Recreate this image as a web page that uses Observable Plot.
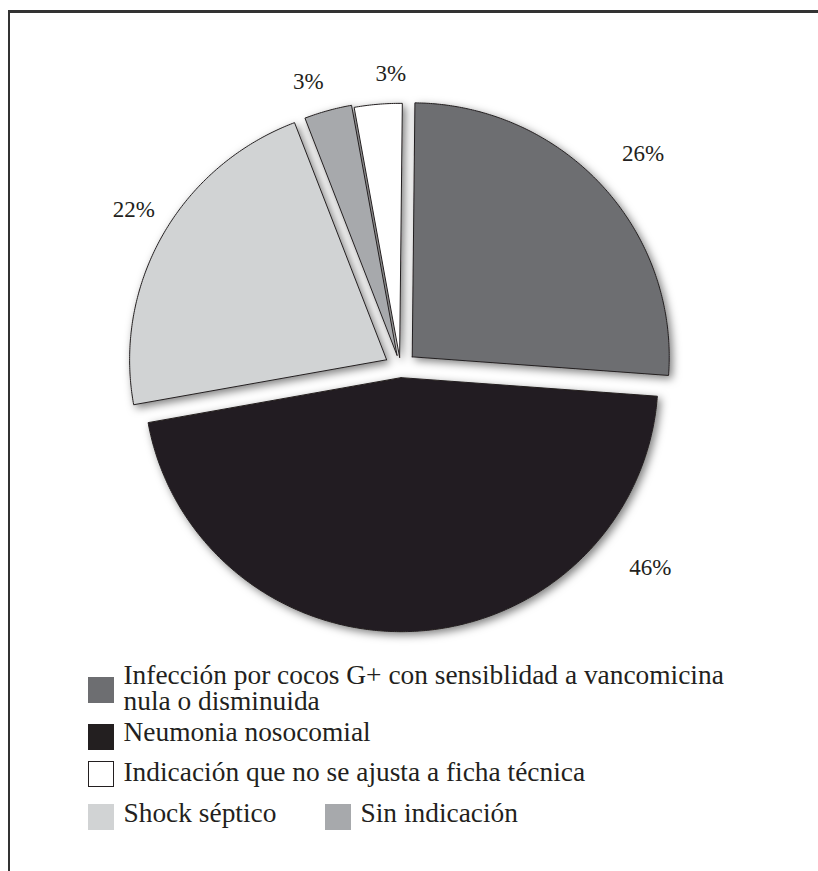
<!DOCTYPE html>
<html><head><meta charset="utf-8">
<script src="https://cdn.jsdelivr.net/npm/d3@7"></script>
<script src="https://cdn.jsdelivr.net/npm/@observablehq/plot@0.6"></script>
<style>
html,body{margin:0;padding:0;background:#fff;}
#page{position:relative;width:818px;height:871px;overflow:hidden;font-family:"Liberation Serif","Times New Roman","DejaVu Serif",serif;color:#231f20;}
#page svg{position:absolute;left:0;top:0;overflow:visible;}
.frame{position:absolute;background:#333;}
.sw{position:absolute;box-sizing:border-box;}
.lt{position:absolute;font-size:27.4px;line-height:25.5px;white-space:pre;font-family:"Liberation Serif","Times New Roman","DejaVu Serif",serif;}
</style></head><body><div id="page"></div>
<script>
// ---- data ----
const categories = [
  "Infección por cocos G+ con sensiblidad a vancomicina\nnula o disminuida",
  "Neumonia nosocomial",
  "Shock séptico",
  "Sin indicación",
  "Indicación que no se ajusta a ficha técnica"
];
const percentages = [26, 46, 22, 3, 3];
const percentLabels = ["26%", "46%", "22%", "3%", "3%"];
const sliceColors = ["#6d6e71", "#231f20", "#d1d3d4", "#a7a9ac", "#ffffff"];
const legendRows = [[0], [1], [4], [2, 3]];

// ---- layout ----
const W = 818, H = 871, plotH = 660;
const cx = 400, cy = 367, rx = 257, ry = 254;
const startDeg = 0.6;
const explode = [0.062, 0.04, 0.062, 0.05, 0.04];
const labelFrac = [0.51, 0.21, 0.52, 0.31, 0.77];
const labelDist = [1.264, 1.25, 1.21, 1.183, 1.158];
const serif = '"Liberation Serif","Times New Roman","DejaVu Serif",serif';

const a0 = startDeg * Math.PI / 180;
const arcs = d3.pie().sort(null).startAngle(a0).endAngle(a0 + 2 * Math.PI)(percentages);

const pts = [];
arcs.forEach((a, i) => {
  const mid = (a.startAngle + a.endAngle) / 2;
  const ox = explode[i] * Math.sin(mid), oy = explode[i] * Math.cos(mid);
  pts.push({slice: i, x: ox, y: oy, color: sliceColors[i]});
  const n = Math.max(4, Math.ceil((a.endAngle - a.startAngle) / (Math.PI / 360)));
  for (let k = 0; k <= n; k++) {
    const t = a.startAngle + (a.endAngle - a.startAngle) * k / n;
    pts.push({slice: i, x: ox + Math.sin(t), y: oy + Math.cos(t), color: sliceColors[i]});
  }
  pts.push({slice: i, x: ox, y: oy, color: sliceColors[i]});
});

const labels = arcs.map((a, i) => {
  const t = a.startAngle + (a.endAngle - a.startAngle) * labelFrac[i];
  return {x: labelDist[i] * Math.sin(t), y: labelDist[i] * Math.cos(t), text: percentLabels[i]};
});

const chart = Plot.plot({
  width: W, height: plotH, margin: 0,
  style: {fontFamily: serif, background: "transparent", overflow: "visible"},
  x: {domain: [-1, 1], range: [cx - rx, cx + rx], axis: null},
  y: {domain: [-1, 1], range: [cy + ry, cy - ry], axis: null},
  color: {type: "identity"},
  marks: [
    Plot.line(pts, {x: "x", y: "y", z: "slice", fill: "color", stroke: "#231f20", strokeWidth: 1, strokeLinejoin: "miter", curve: "linear"}),
    Plot.text(labels, {x: "x", y: "y", text: "text", fontSize: 23, fill: "#231f20", fontFamily: serif})
  ]
});

const page = document.getElementById("page");
page.appendChild(chart);

// drop shadow
const svg = d3.select(chart);
const f = svg.insert("defs", ":first-child").append("filter")
  .attr("id", "shadow").attr("x", "-20%").attr("y", "-20%").attr("width", "140%").attr("height", "140%");
f.append("feDropShadow").attr("dx", 3).attr("dy", 3).attr("stdDeviation", 4)
  .attr("flood-color", "#000").attr("flood-opacity", 0.5);
svg.select('g[aria-label="line"]').attr("filter", "url(#shadow)");

// frame
const pg = d3.select(page);
pg.append("div").attr("class", "frame").style("left", "7.5px").style("top", "10px").style("width", "2.6px").style("height", (H - 10) + "px");
pg.append("div").attr("class", "frame").style("left", "7.5px").style("top", "10px").style("width", (W - 7.5) + "px").style("height", "2.6px");

// legend
const rowSpec = [
  {swTop: 677, base: 685},
  {swTop: 724, base: 741.7},
  {swTop: 761, base: 781.7},
  {swTop: 804, base: 823.3}
];
const colX = [88, 325];
legendRows.forEach((row, r) => {
  row.forEach((idx, c) => {
    const x = colX[c];
    pg.append("div").attr("class", "sw")
      .style("left", x + "px").style("top", rowSpec[r].swTop + "px")
      .style("width", "26px").style("height", "26px")
      .style("background", sliceColors[idx])
      .style("border", sliceColors[idx] === "#ffffff" ? "1px solid #231f20" : "none");
    pg.append("div").attr("class", "lt")
      .style("left", (x + 35.5) + "px").style("top", (rowSpec[r].base - 22) + "px")
      .text(categories[idx]);
  });
});
</script>
</body></html>
